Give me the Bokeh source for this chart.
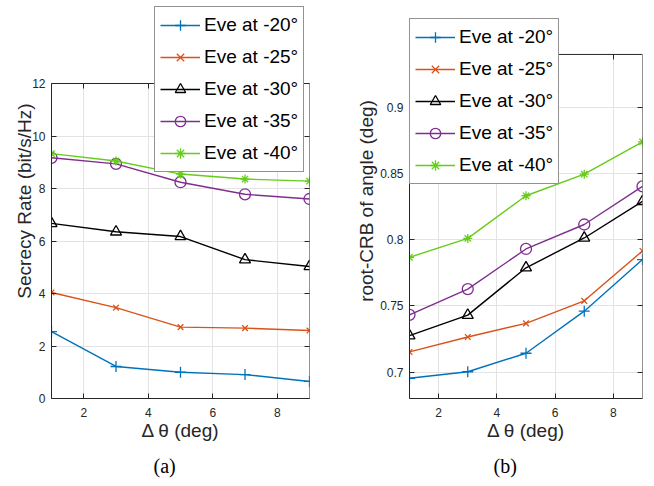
from bokeh.plotting import figure
from bokeh.models import (FixedTicker, LinearAxis, Legend, LegendItem, Title, Range1d,
                          BoxAnnotation)
from bokeh.layouts import row
from bokeh.embed import file_html
from bokeh.resources import INLINE

# ---------------- data ----------------
delta_theta = [1, 3, 5, 7, 9]
series_labels = ["Eve at -20°", "Eve at -25°", "Eve at -30°", "Eve at -35°", "Eve at -40°"]

secrecy_m20 = [2.55, 1.22, 1.00, 0.91, 0.65]
secrecy_m25 = [4.04, 3.46, 2.72, 2.68, 2.59]
secrecy_m30 = [6.67, 6.35, 6.17, 5.29, 5.03]
secrecy_m35 = [9.17, 8.94, 8.24, 7.78, 7.60]
secrecy_m40 = [9.33, 9.05, 8.55, 8.36, 8.28]

crb_m20 = [0.6953, 0.7002, 0.7142, 0.7460, 0.7850]
crb_m25 = [0.7152, 0.7265, 0.7368, 0.7538, 0.7915]
crb_m30 = [0.7275, 0.7430, 0.7788, 0.8013, 0.8290]
crb_m35 = [0.7432, 0.7627, 0.7930, 0.8115, 0.8403]
crb_m40 = [0.7867, 0.8010, 0.8332, 0.8495, 0.8740]

x_ticks = [2, 4, 6, 8]
secrecy_ticks = [0, 2, 4, 6, 8, 10, 12]
crb_ticks = [0.7, 0.75, 0.8, 0.85, 0.9]
crb_tick_labels = ["0.7", "0.75", "0.8", "0.85", "0.9"]

# axes limits (the drawn box); the view extends above it to hold the legend
x_lim = (1, 9)
secrecy_lim = (0, 12)
crb_lim = (0.68, 0.94)

# ---------------- styles ----------------
colors = ["#0072BD", "#D95319", "#000000", "#7E2F8E", "#66CC1A"]
markers = ["cross", "x", "triangle", "circle", "asterisk"]
msizes = [11, 8, 11, 11, 9]
SANS = "Liberation Sans"
SERIF = "Liberation Serif"
AX = "#262626"


def make_fig(series, ylim, view_top, yticks, ylabel, caption, width, borders,
             legend_loc, cap_offset, cap_standoff, ylab_standoff, tick_overrides=None):
    bl, br, bt, bb = borders
    p = figure(width=width, height=486, x_range=Range1d(*x_lim),
               y_range=Range1d(ylim[0], view_top),
               output_backend="svg", toolbar_location=None, title=None,
               min_border_left=bl, min_border_right=br,
               min_border_top=bt, min_border_bottom=bb)
    p.background_fill_color = "white"
    p.border_fill_color = "white"
    p.outline_line_color = None

    items = []
    for ys, lab, c, m, s in zip(series, series_labels, colors, markers, msizes):
        lr = p.line(delta_theta, ys, line_color=c, line_width=1.4)
        sr = p.scatter(delta_theta, ys, marker=m, size=s, line_color=c,
                       fill_color=None, line_width=1.3)
        items.append(LegendItem(label=lab, renderers=[lr, sr]))

    p.xaxis.ticker = FixedTicker(ticks=x_ticks)
    p.yaxis.ticker = FixedTicker(ticks=yticks)
    p.xgrid.ticker = FixedTicker(ticks=x_ticks)
    p.ygrid.ticker = FixedTicker(ticks=yticks)
    p.xgrid.cross_bounds = ylim
    p.ygrid.cross_bounds = x_lim
    if tick_overrides:
        p.yaxis.major_label_overrides = tick_overrides
    for g in (p.xgrid, p.ygrid):
        g.grid_line_color = "#E3E3E3"
        g.grid_line_width = 1

    p.xaxis.bounds = x_lim
    p.yaxis.bounds = ylim

    p.xaxis.axis_label = "Δ θ (deg)"
    p.yaxis.axis_label = ylabel
    for ax in (p.xaxis, p.yaxis):
        ax.axis_line_color = AX
        ax.major_tick_line_color = AX
        ax.major_tick_in = 5
        ax.major_tick_out = 0
        ax.minor_tick_in = 0
        ax.minor_tick_out = 0
        ax.major_label_text_font = SANS
        ax.major_label_text_font_size = "12px"
        ax.major_label_text_color = AX
        ax.axis_label_text_font = SANS
        ax.axis_label_text_font_size = "19px"
        ax.axis_label_text_font_style = "normal"
        ax.axis_label_text_color = AX
    p.xaxis.major_label_standoff = 9
    p.xaxis.axis_label_standoff = 0
    p.yaxis.major_label_standoff = 6
    p.yaxis.axis_label_standoff = ylab_standoff

    # box ticks on top and right
    top_ax = LinearAxis(ticker=FixedTicker(ticks=x_ticks), bounds=x_lim,
                        fixed_location=ylim[1])
    right_ax = LinearAxis(ticker=FixedTicker(ticks=yticks), bounds=ylim)
    for ax, loc in ((top_ax, "above"), (right_ax, "right")):
        ax.axis_line_color = None
        ax.major_tick_line_color = AX
        ax.major_tick_in = 5
        ax.major_tick_out = 0
        ax.minor_tick_in = 0
        ax.minor_tick_out = 0
        ax.major_label_text_color = None
        ax.major_label_text_font_size = "1px"
        ax.major_label_standoff = 0
        p.add_layout(ax, loc)

    box = BoxAnnotation(left=x_lim[0], right=x_lim[1], bottom=ylim[0], top=ylim[1],
                        fill_color=None, line_color=AX, line_width=1, line_alpha=1)
    p.add_layout(box)

    legend = Legend(items=items, location=legend_loc, padding=5, spacing=6,
                    glyph_width=40, glyph_height=26, label_height=26,
                    label_standoff=4, label_text_font=SANS,
                    label_text_font_size="19px", label_text_color="black",
                    border_line_color=AX, border_line_width=1,
                    background_fill_color="white", background_fill_alpha=1,
                    margin=0)
    p.add_layout(legend, "center")

    cap = Title(text=caption, align="left", offset=cap_offset, standoff=cap_standoff,
                text_font=SERIF, text_font_size="20px", text_font_style="normal",
                text_color="black")
    p.add_layout(cap, "below")
    return p


p1 = make_fig([secrecy_m20, secrecy_m25, secrecy_m30, secrecy_m35, secrecy_m40],
              secrecy_lim, 15.048, secrecy_ticks,
              "Secrecy Rate (bit/s/Hz)", "(a)", 330, (51, 21, 3, 88),
              (103, 226), 102, 19, -6)
p2 = make_fig([crb_m20, crb_m25, crb_m30, crb_m35, crb_m40],
              crb_lim, 0.9785, crb_ticks,
              "root-CRB of angle (deg)", "(b)", 324, (79, 12, 3, 88),
              (0, 214), 84, 19, 0,
              dict(zip(crb_ticks, crb_tick_labels)))

layout = row(p1, p2)
open("out.html", "w").write(file_html(layout, INLINE))
